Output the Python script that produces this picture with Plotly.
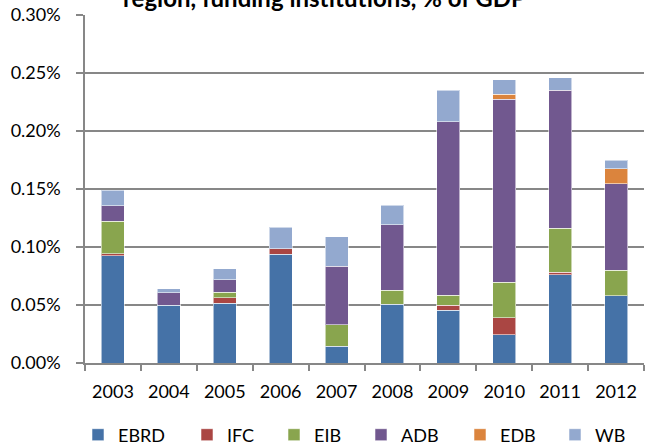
import plotly.graph_objects as go

years = ["2003", "2004", "2005", "2006", "2007", "2008", "2009", "2010", "2011", "2012"]
series_names = ["EBRD", "IFC", "EIB", "ADB", "EDB", "WB"]
ebrd = [0.0925, 0.0500, 0.0517, 0.0937, 0.0144, 0.0506, 0.0454, 0.0244, 0.0761, 0.0578]
ifc = [0.0015, 0.0, 0.0046, 0.0048, 0.0, 0.0, 0.0046, 0.0146, 0.0021, 0.0]
eib = [0.0282, 0.0, 0.0049, 0.0, 0.0184, 0.0120, 0.0086, 0.0305, 0.0379, 0.0221]
adb = [0.0134, 0.0106, 0.0104, 0.0, 0.0505, 0.0567, 0.1494, 0.1577, 0.1191, 0.0747]
edb = [0.0, 0.0, 0.0, 0.0, 0.0, 0.0, 0.0, 0.0043, 0.0, 0.0129]
wb = [0.0135, 0.0034, 0.0097, 0.0187, 0.0256, 0.0166, 0.0273, 0.0129, 0.0107, 0.0072]
y_ticks = [0.0, 0.05, 0.10, 0.15, 0.20, 0.25, 0.30]
y_tick_labels = ["0.00%", "0.05%", "0.10%", "0.15%", "0.20%", "0.25%", "0.30%"]
title_text = "region, funding institutions, % of GDP"

colors = ["#4572A7", "#AA4643", "#89A54E", "#71588F", "#DB843D", "#93A9CF"]
all_series = [ebrd, ifc, eib, adb, edb, wb]
legend_x_px = [94, 203, 290, 377, 476, 571]

FONT = "Lato, 'Open Sans', sans-serif"
W, H = 648, 446
ML, MR, MT, MB = 85, 4, 15, 82.5

fig = go.Figure()
for i, (name, vals) in enumerate(zip(series_names, all_series)):
    lg = "legend" if i == 0 else f"legend{i+1}"
    fig.add_trace(go.Bar(
        x=years,
        y=[v if v > 0 else None for v in vals],
        name=name,
        marker=dict(color=colors[i], line=dict(color="rgba(255,255,255,0.55)", width=1)),
        width=0.41,
        legend=lg,
        hovertemplate="%{x}: %{y:.3f}%<extra>" + name + "</extra>",
    ))

layout_legends = {}
for i in range(6):
    key = "legend" if i == 0 else f"legend{i+1}"
    layout_legends[key] = dict(
        xref="container", yref="container",
        x=(legend_x_px[i] - 16) / W, y=(H - 435) / H,
        xanchor="left", yanchor="middle",
        orientation="h", bgcolor="rgba(0,0,0,0)",
        font=dict(family=FONT, size=18, color="#000000"),
        itemwidth=30,
    )

fig.update_layout(
    width=W, height=H,
    margin=dict(l=ML, r=MR, t=MT, b=MB, autoexpand=False),
    paper_bgcolor="white", plot_bgcolor="white",
    barmode="stack",
    font=dict(family=FONT, size=18, color="#000000"),
    showlegend=True,
    **layout_legends,
)
fig.update_xaxes(
    type="category",
    showline=True, linecolor="#878787", linewidth=1.5,
    ticks="outside", ticklen=6, tickcolor="#878787", tickwidth=1.5,
    tickson="boundaries",
    ticklabelstandoff=12,
    tickfont=dict(family=FONT, size=18, color="#000000"),
    showgrid=False,
)
fig.update_yaxes(
    range=[0, 0.30],
    tickvals=y_ticks, ticktext=y_tick_labels,
    showline=True, linecolor="#878787", linewidth=1.5,
    ticks="outside", ticklen=7, tickcolor="#878787", tickwidth=1.5,
    ticklabelstandoff=12,
    showgrid=True, gridcolor="#878787", gridwidth=1.5,
    zeroline=False,
    tickfont=dict(family=FONT, size=18, color="#000000"),
)
plot_w = W - ML - MR
fig.add_annotation(
    text="<b>" + title_text + "</b>",
    xref="paper", yref="paper", x=(W / 2 - ML) / plot_w, y=1, yshift=17.5,
    xanchor="center", yanchor="middle", showarrow=False,
    font=dict(family=FONT, size=24, color="#000000"),
)

fig.write_html(
    "out.html",
    config={"displayModeBar": False},
    post_script="document.body.style.margin='0';document.body.style.overflow='hidden';",
)
